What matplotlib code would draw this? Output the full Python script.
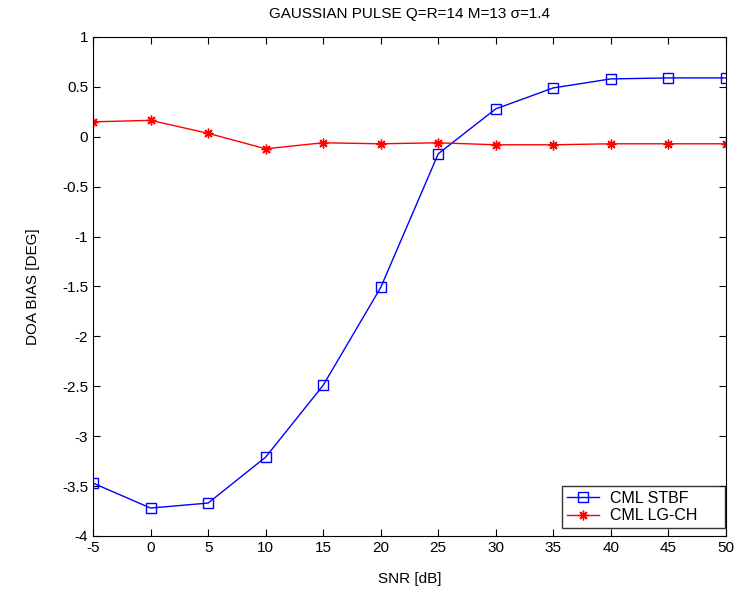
import matplotlib.pyplot as plt

plt.rcParams['font.family'] = ['Liberation Sans', 'DejaVu Sans']

# SNR values and DOA bias for both estimators
snr = [-5, 0, 5, 10, 15, 20, 25, 30, 35, 40, 45, 50]
stbf = [-3.47, -3.72, -3.67, -3.21, -2.49, -1.51, -0.17, 0.28, 0.49, 0.58, 0.59, 0.59]
lgch = [0.15, 0.165, 0.035, -0.12, -0.06, -0.07, -0.06, -0.08, -0.08, -0.07, -0.07, -0.07]

xticks = [-5, 0, 5, 10, 15, 20, 25, 30, 35, 40, 45, 50]
yticks = [-4, -3.5, -3, -2.5, -2, -1.5, -1, -0.5, 0, 0.5, 1]

fig = plt.figure(figsize=(7.4, 5.92), dpi=100)
ax = fig.add_axes([0.1257, 0.0946, 0.8553, 0.8429])

ax.plot(snr, stbf, color='blue', marker='s', markerfacecolor='none',
        markersize=7, linewidth=1, label='CML STBF')
ax.plot(snr, lgch, color='red', marker=(8, 2, 0), markersize=7,
        linewidth=1, label='CML LG-CH')

ax.set_xlim(-5, 50)
ax.set_ylim(-4, 1)
ax.set_xticks(xticks)
ax.set_xticklabels([str(t) for t in xticks])
ax.set_yticks(yticks)
ax.set_yticklabels(['%g' % t for t in yticks])
ax.tick_params(direction='in', top=True, right=True, labelsize=11, length=5)

ax.set_xlabel('SNR [dB]', fontsize=11, labelpad=12)
ax.set_ylabel('DOA BIAS [DEG]', fontsize=11, labelpad=16)
ax.set_title('GAUSSIAN PULSE Q=R=14 M=13 σ=1.4', fontsize=11, pad=14)

# legend box stretched like the MATLAB one in the lower right corner
leg = ax.legend(loc='lower left', bbox_to_anchor=(0.741, 0.016, 0.257, 0.08),
                mode='expand', borderaxespad=0, fancybox=False,
                edgecolor='black', fontsize=11.5, handlelength=2.0,
                handletextpad=0.7, borderpad=0.3, labelspacing=0.15)
leg.get_frame().set_linewidth(1)

fig.savefig('out.png', dpi=100)
